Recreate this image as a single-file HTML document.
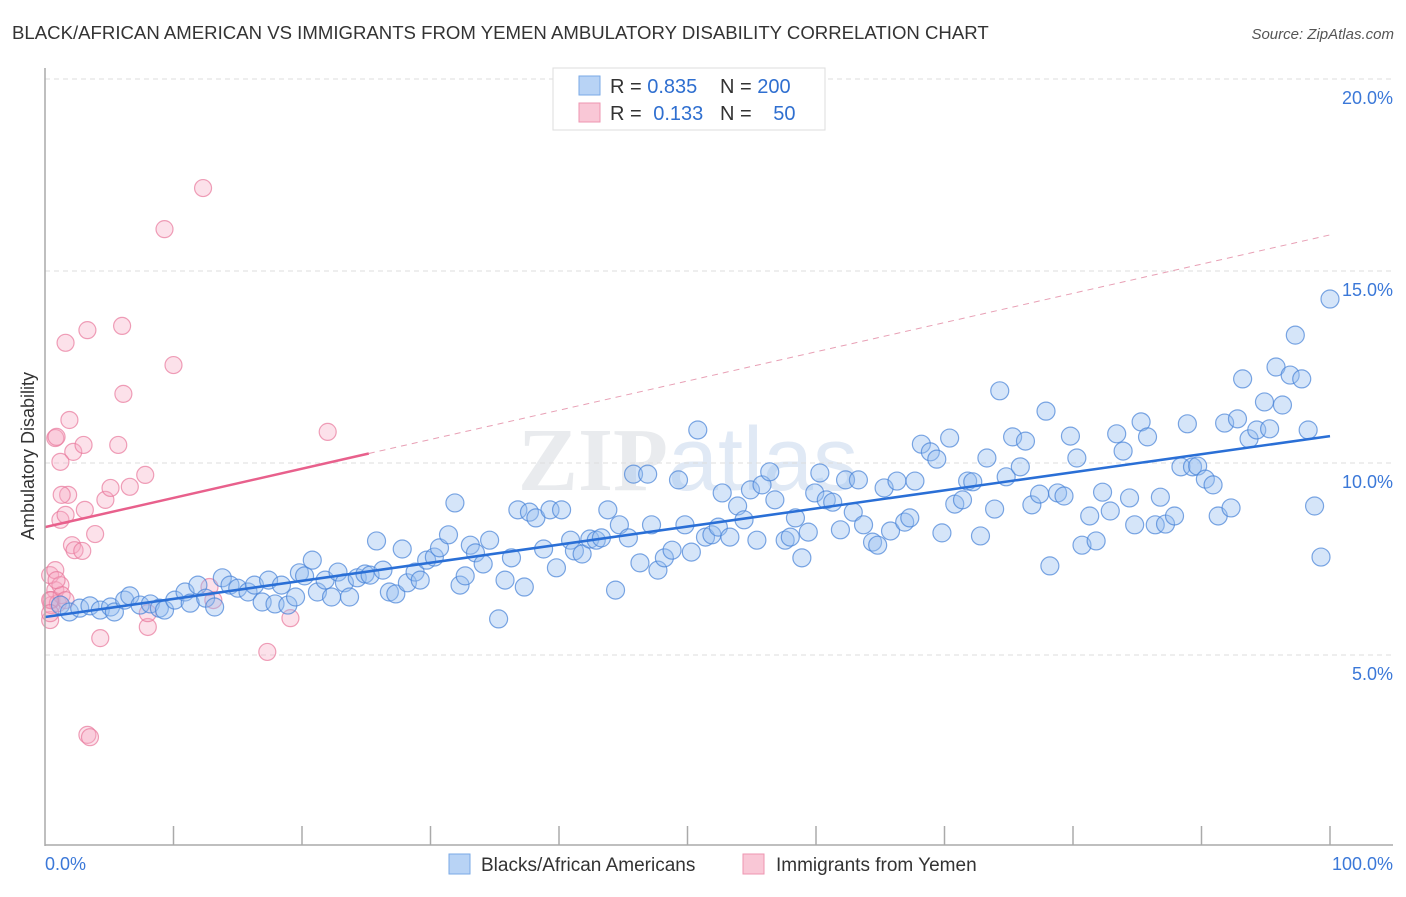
<!DOCTYPE html>
<html><head><meta charset="utf-8"><style>
body{margin:0;background:#fff;font-family:"Liberation Sans",sans-serif}
svg text{font-family:"Liberation Sans",sans-serif}
</style></head><body>
<svg id="c" width="1406" height="892" xmlns="http://www.w3.org/2000/svg">
<text x="12" y="39" font-size="18.6" fill="#333">BLACK/AFRICAN AMERICAN VS IMMIGRANTS FROM YEMEN AMBULATORY DISABILITY CORRELATION CHART</text>
<text x="1394" y="39" font-size="15" fill="#555" text-anchor="end" font-style="italic">Source: ZipAtlas.com</text>
<text x="688" y="490" font-size="90" text-anchor="middle" opacity="0.45"><tspan fill="#cfd4da" font-family="Liberation Serif" font-weight="bold">ZIP</tspan><tspan fill="#bcd0ea">atlas</tspan></text>
<g id="grid"></g><g id="pts"></g><g id="trend"></g><g id="axes"></g>
<text transform="translate(34,456) rotate(-90)" font-size="18" fill="#333" text-anchor="middle">Ambulatory Disability</text>
<g>
<rect x="553" y="68" width="272" height="62" fill="#fff" stroke="#ddd"/>
<rect x="579" y="76" width="21" height="19" fill="#b8d3f5" stroke="#7aaae6"/>
<rect x="579" y="103" width="21" height="19" fill="#f9c7d6" stroke="#ee95b0"/>
<text x="610" y="93" font-size="20" fill="#333">R = <tspan fill="#2f6fd0">0.835</tspan></text>
<text x="720" y="93" font-size="20" fill="#333">N = <tspan fill="#2f6fd0">200</tspan></text>
<text x="610" y="120" font-size="20" fill="#333">R = <tspan fill="#2f6fd0" dx="6">0.133</tspan></text>
<text x="720" y="120" font-size="20" fill="#333">N = <tspan fill="#2f6fd0" dx="16">50</tspan></text>
</g>
<g>
<rect x="449" y="854" width="21" height="20" fill="#b8d3f5" stroke="#7aaae6"/>
<text x="481" y="871" font-size="19" fill="#333">Blacks/African Americans</text>
<rect x="743" y="854" width="21" height="20" fill="#f9c7d6" stroke="#ee95b0"/>
<text x="776" y="871" font-size="19" fill="#333">Immigrants from Yemen</text>
</g>
</svg>
<script>
const blueX=[1.2,1.9,2.7,3.5,4.3,5.1,5.4,6.2,6.6,7.4,8.2,8.9,9.3,10.1,10.9,11.3,11.9,12.5,13.2,13.8,14.4,15.0,15.8,16.3,16.9,17.4,17.9,18.4,18.9,19.5,19.8,20.2,20.8,21.2,21.8,22.3,22.8,23.3,23.7,24.3,24.9,25.3,25.8,26.3,26.8,27.3,27.8,28.2,28.8,29.2,29.7,30.3,30.7,31.4,31.9,32.3,32.7,33.1,33.5,34.1,34.6,35.3,35.8,36.3,36.8,37.3,37.7,38.2,38.8,39.3,39.8,40.2,40.9,41.2,41.8,42.4,42.9,43.3,43.8,44.4,44.7,45.4,45.8,46.3,46.9,47.2,47.7,48.2,48.8,49.3,49.8,50.3,50.8,51.4,51.9,52.4,52.7,53.3,53.9,54.4,54.9,55.4,55.8,56.4,56.8,57.6,58.0,58.4,58.9,59.4,59.9,60.3,60.8,61.3,61.9,62.3,62.9,63.3,63.7,64.4,64.8,65.3,65.8,66.3,66.9,67.3,67.7,68.2,68.9,69.4,69.8,70.4,70.8,71.4,71.8,72.2,72.8,73.3,73.9,74.3,74.8,75.3,75.9,76.3,76.8,77.4,77.9,78.2,78.8,79.3,79.8,80.3,80.7,81.3,81.8,82.3,82.9,83.4,83.9,84.4,84.8,85.3,85.8,86.4,86.8,87.2,87.9,88.4,88.9,89.3,89.7,90.3,90.9,91.3,91.8,92.3,92.8,93.2,93.7,94.3,94.9,95.3,95.8,96.3,96.9,97.3,97.8,98.3,98.8,99.3,100];
const blueY=[6.30,6.12,6.22,6.28,6.17,6.25,6.12,6.43,6.54,6.30,6.33,6.22,6.17,6.43,6.64,6.35,6.82,6.48,6.25,7.01,6.82,6.74,6.64,6.82,6.38,6.95,6.33,6.82,6.30,6.51,7.14,7.06,7.47,6.64,6.95,6.51,7.16,6.88,6.51,7.01,7.11,7.08,7.97,7.21,6.64,6.59,7.76,6.88,7.16,6.95,7.47,7.55,7.79,8.13,8.96,6.82,7.06,7.86,7.66,7.37,7.99,5.94,6.95,7.53,8.78,6.77,8.72,8.57,7.76,8.78,7.27,8.78,7.99,7.71,7.63,8.02,7.99,8.05,8.78,6.69,8.39,8.05,9.71,7.40,9.71,8.39,7.21,7.53,7.73,9.56,8.39,7.68,10.86,8.07,8.13,8.33,9.22,8.07,8.88,8.52,9.30,7.99,9.43,9.77,9.04,7.99,8.07,8.57,7.53,8.20,9.22,9.74,9.04,8.98,8.26,9.56,8.72,9.56,8.39,7.94,7.86,9.35,8.23,9.53,8.46,8.57,9.53,10.49,10.29,10.10,8.18,10.65,8.93,9.04,9.53,9.51,8.10,10.13,8.80,11.88,9.64,10.68,9.90,10.57,8.91,9.19,11.35,7.32,9.22,9.14,10.70,10.13,7.86,8.62,7.97,9.24,8.75,10.76,10.31,9.09,8.39,11.07,10.68,8.39,9.11,8.41,8.62,9.90,11.02,9.90,9.92,9.58,9.43,8.62,11.04,8.83,11.15,12.19,10.63,10.86,11.59,10.89,12.50,11.51,12.29,13.33,12.19,10.86,8.88,7.55,14.27];
const pinkX=[0.4,0.5,0.8,0.4,0.8,1.2,0.5,1.0,1.3,1.6,0.4,0.8,0.9,1.6,1.9,2.2,1.2,1.2,1.6,1.8,1.3,2.1,2.3,2.9,3.1,3.0,3.3,3.3,3.5,3.9,4.3,4.7,5.1,5.7,6.0,6.1,6.6,7.8,8.0,8.0,10.0,9.3,12.3,13.1,12.8,17.3,19.1,22.0,0.9,0.4];
const pinkY=[5.91,6.30,6.69,7.08,7.21,6.82,6.43,6.35,6.56,6.43,6.43,10.65,10.68,13.13,11.12,10.29,10.03,8.52,8.65,9.17,9.17,7.86,7.73,7.71,8.78,10.47,13.46,2.92,2.86,8.15,5.44,9.04,9.35,10.47,13.57,11.80,9.38,9.69,5.73,6.09,12.55,16.09,17.16,6.43,6.77,5.08,5.96,10.81,6.95,6.09];
const yTicks=[5,10,15,20];
const yTickLabels=["5.0%","10.0%","15.0%","20.0%"];
const blueTrend=[5.99,10.70];
const pinkTrend=[8.33,15.94];
const pinkSolidEnd=25.2;
const NS="http://www.w3.org/2000/svg";
const X=v=>45+v*12.85, Y=v=>847-v*38.4;
function mk(tag,attrs,parent){const e=document.createElementNS(NS,tag);for(const k in attrs)e.setAttribute(k,attrs[k]);document.getElementById(parent).appendChild(e);return e;}
yTicks.forEach((t,i)=>{
 const l=mk('line',{x1:45,x2:1393,y1:Y(t),y2:Y(t),stroke:'#ddd','stroke-dasharray':'5,4'},'grid');
 
 
 const tx=mk('text',{x:1393,y:Y(t)+25,'font-size':18,fill:'#3b78d8','text-anchor':'end'},'grid');
 tx.textContent=yTickLabels[i];
 
 
});
pinkX.forEach((x,i)=>{
 const c=mk('circle',{cx:X(x),cy:Y(pinkY[i]),r:8.5,fill:'rgba(246,170,195,0.35)',stroke:'rgba(232,120,155,0.7)','stroke-width':1.2},'pts');
 
 
});
blueX.forEach((x,i)=>{
 const c=mk('circle',{cx:X(x),cy:Y(blueY[i]),r:9,fill:'rgba(150,190,240,0.4)',stroke:'rgba(70,130,215,0.7)','stroke-width':1.2},'pts');
 
 
});
let l=mk('line',{x1:X(0),y1:Y(blueTrend[0]),x2:X(100),y2:Y(blueTrend[1]),stroke:'#2a6fd6','stroke-width':2.5},'trend');


const pAt=x=>pinkTrend[0]+(pinkTrend[1]-pinkTrend[0])*x/100;
l=mk('line',{x1:X(0),y1:Y(pinkTrend[0]),x2:X(pinkSolidEnd),y2:Y(pAt(pinkSolidEnd)),stroke:'#e8608c','stroke-width':2.5},'trend');


l=mk('line',{x1:X(pinkSolidEnd),y1:Y(pAt(pinkSolidEnd)),x2:X(100),y2:Y(pinkTrend[1]),stroke:'#e8a0b5','stroke-width':1,'stroke-dasharray':'6,5'},'trend');


l=mk('line',{x1:45,y1:68,x2:45,y2:846,stroke:'#aaa','stroke-width':1.5},'axes');


l=mk('line',{x1:45,y1:845,x2:1393,y2:845,stroke:'#aaa','stroke-width':1.5},'axes');


for(let i=1;i<=10;i++){
 const t=mk('line',{x1:X(i*10),x2:X(i*10),y1:826,y2:845,stroke:'#aaa','stroke-width':1.5},'axes');
 
 
}
let t=mk('text',{x:45,y:870,'font-size':18,fill:'#3b78d8'},'axes');t.textContent='0.0%';


t=mk('text',{x:1393,y:870,'font-size':18,fill:'#3b78d8','text-anchor':'end'},'axes');t.textContent='100.0%';


</script>
</body></html>
